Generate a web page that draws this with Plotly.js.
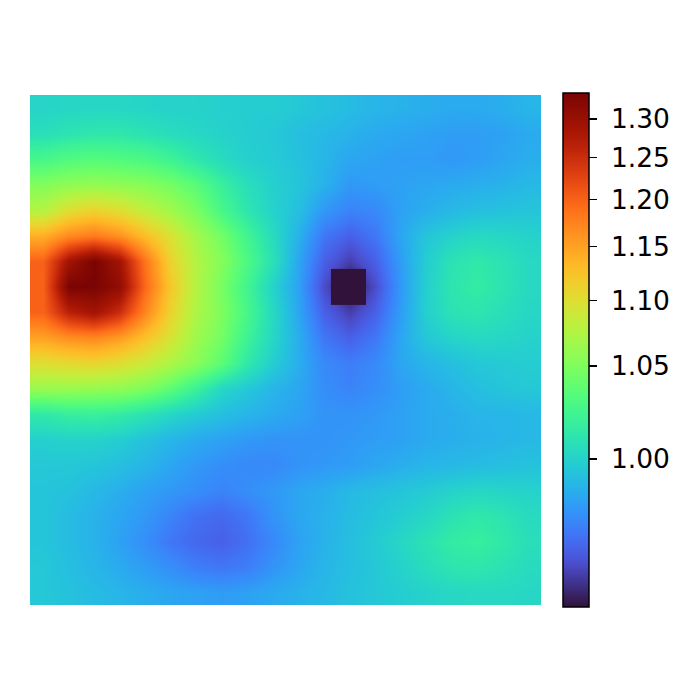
<!DOCTYPE html>
<html><head><meta charset="utf-8">
<script src="https://cdn.plot.ly/plotly-3.0.1.min.js"></script>
<style>html,body{margin:0;padding:0;background:#fff}#chart{width:700px;height:700px}</style>
</head><body><div id="chart"></div>
<script>
// grid values (20 x 20), rows top -> bottom, columns left -> right
const row00 = [1.001, 1.002, 1.002, 1.002, 1.001, 1.000, 1.000, 0.999, 0.998, 0.998, 0.996, 0.994, 0.992, 0.990, 0.989, 0.988, 0.987, 0.987, 0.988, 0.990];
const row01 = [1.006, 1.009, 1.011, 1.011, 1.008, 1.005, 1.002, 1.000, 0.998, 0.996, 0.993, 0.991, 0.989, 0.987, 0.986, 0.985, 0.984, 0.984, 0.985, 0.987];
const row02 = [1.025, 1.030, 1.032, 1.030, 1.027, 1.020, 1.011, 1.004, 0.999, 0.997, 0.994, 0.990, 0.986, 0.985, 0.984, 0.984, 0.983, 0.984, 0.986, 0.988];
const row03 = [1.052, 1.058, 1.060, 1.058, 1.054, 1.046, 1.033, 1.017, 1.006, 0.999, 0.995, 0.989, 0.983, 0.984, 0.985, 0.986, 0.987, 0.988, 0.989, 0.991];
const row04 = [1.075, 1.100, 1.110, 1.100, 1.082, 1.066, 1.048, 1.025, 1.010, 1.000, 0.993, 0.983, 0.979, 0.980, 0.985, 0.988, 0.991, 0.993, 0.994, 0.995];
const row05 = [1.140, 1.168, 1.180, 1.162, 1.128, 1.097, 1.067, 1.045, 1.022, 1.004, 0.989, 0.977, 0.974, 0.977, 0.986, 0.995, 1.000, 1.003, 1.002, 1.000];
const row06 = [1.200, 1.290, 1.340, 1.290, 1.185, 1.110, 1.075, 1.053, 1.028, 1.007, 0.986, 0.974, 0.971, 0.974, 0.984, 0.998, 1.008, 1.012, 1.008, 1.003];
const row07 = [1.200, 1.340, 1.450, 1.310, 1.195, 1.120, 1.075, 1.047, 1.022, 1.000, 0.985, 0.972, 0.969, 0.972, 0.983, 0.999, 1.010, 1.014, 1.009, 1.003];
const row08 = [1.200, 1.265, 1.290, 1.250, 1.172, 1.110, 1.072, 1.050, 1.025, 1.003, 0.986, 0.974, 0.971, 0.974, 0.984, 0.999, 1.008, 1.010, 1.006, 1.002];
const row09 = [1.150, 1.165, 1.170, 1.155, 1.125, 1.095, 1.065, 1.045, 1.020, 1.002, 0.988, 0.977, 0.974, 0.977, 0.986, 0.996, 1.001, 1.003, 1.002, 1.000];
const row10 = [1.100, 1.105, 1.108, 1.100, 1.088, 1.072, 1.055, 1.035, 1.012, 0.998, 0.988, 0.980, 0.978, 0.980, 0.986, 0.990, 0.993, 0.996, 0.997, 0.998];
const row11 = [1.062, 1.062, 1.060, 1.058, 1.050, 1.035, 1.018, 1.002, 0.996, 0.990, 0.986, 0.981, 0.979, 0.981, 0.984, 0.987, 0.990, 0.993, 0.995, 0.996];
const row12 = [1.012, 1.016, 1.017, 1.014, 1.008, 1.002, 0.997, 0.993, 0.990, 0.987, 0.985, 0.982, 0.982, 0.983, 0.985, 0.987, 0.988, 0.990, 0.990, 0.991];
const row13 = [0.999, 1.000, 1.000, 0.998, 0.994, 0.990, 0.987, 0.985, 0.983, 0.982, 0.982, 0.982, 0.983, 0.984, 0.985, 0.987, 0.988, 0.989, 0.990, 0.991];
const row14 = [0.996, 0.996, 0.995, 0.993, 0.990, 0.986, 0.983, 0.981, 0.980, 0.980, 0.982, 0.983, 0.984, 0.986, 0.988, 0.990, 0.991, 0.992, 0.993, 0.994];
const row15 = [0.995, 0.994, 0.991, 0.988, 0.985, 0.983, 0.981, 0.979, 0.981, 0.983, 0.986, 0.988, 0.991, 0.993, 0.995, 0.997, 1.000, 1.002, 1.001, 1.000];
const row16 = [0.995, 0.992, 0.989, 0.986, 0.983, 0.979, 0.976, 0.975, 0.977, 0.982, 0.986, 0.989, 0.992, 0.995, 0.998, 1.002, 1.008, 1.012, 1.009, 1.004];
const row17 = [0.995, 0.992, 0.989, 0.985, 0.981, 0.977, 0.975, 0.974, 0.976, 0.980, 0.985, 0.989, 0.993, 0.997, 1.002, 1.008, 1.014, 1.016, 1.012, 1.006];
const row18 = [0.996, 0.993, 0.990, 0.987, 0.984, 0.981, 0.978, 0.977, 0.978, 0.982, 0.986, 0.990, 0.993, 0.996, 1.000, 1.005, 1.010, 1.011, 1.008, 1.004];
const row19 = [0.996, 0.994, 0.992, 0.990, 0.988, 0.986, 0.985, 0.984, 0.985, 0.987, 0.989, 0.991, 0.994, 0.996, 0.998, 1.000, 1.002, 1.003, 1.003, 1.002];

// outlier cell below the colour range (bounds in grid units)
const underX = [11.28, 12.65];
const underY = [6.32, 7.74];
const underValue = [[0.940]];

// colorbar ticks
const tickValues = [1.00, 1.05, 1.10, 1.15, 1.20, 1.25, 1.30];
const tickLabels = ["1.00", "1.05", "1.10", "1.15", "1.20", "1.25", "1.30"];

// power norm (gamma 0.5)
const vmin = 0.9695, vmax = 1.3362, gamma = 0.5;
function norm(v) {
  const f = (v - vmin) / (vmax - vmin);
  return Math.pow(Math.min(1, Math.max(0, f)), gamma);
}

// turbo colormap
function turbo(t) {
  const r = 0.13572138 + t*(4.61539260 + t*(-42.66032258 + t*(132.13108234 + t*(-152.94239396 + t*59.28637943))));
  const g = 0.09140261 + t*(2.19418839 + t*(4.84296658 + t*(-14.18503333 + t*(4.27729857 + t*2.82956604))));
  const b = 0.10667330 + t*(12.64194608 + t*(-60.58204836 + t*(110.36276771 + t*(-89.90310912 + t*27.34824973))));
  return [r, g, b].map(c => Math.max(0, Math.min(1, c)));
}
const lo = [0.18995, 0.07176, 0.23217], hi = [0.47960, 0.01583, 0.01055];
const colorscale = [];
for (let i = 0; i <= 64; i++) {
  const t = i / 64;
  let c = turbo(t);
  if (t < 0.08) { const a = t / 0.08; const p = turbo(0.08); c = lo.map((v, k) => v + (p[k] - v) * a); }
  if (t > 0.92) { const a = (t - 0.92) / 0.08; const p = turbo(0.92); c = p.map((v, k) => v + (hi[k] - v) * a); }
  colorscale.push([t, 'rgb(' + c.map(v => Math.round(v * 255)).join(',') + ')']);
}

const rows = [row00,row01,row02,row03,row04,row05,row06,row07,row08,row09,
              row10,row11,row12,row13,row14,row15,row16,row17,row18,row19];
const zMain = rows.map(r => r.map(norm));

const main = {
  type: 'heatmap', z: zMain, zsmooth: 'best',
  colorscale: colorscale, zmin: 0, zmax: 1,
  hoverinfo: 'skip',
  colorbar: {
    x: 1.043, xanchor: 'left', xpad: 0, ypad: 0,
    y: 0.5, yanchor: 'middle', yref: 'paper',
    len: 514, lenmode: 'pixels', thickness: 26, thicknessmode: 'pixels',
    outlinewidth: 1.5, outlinecolor: '#000',
    tickmode: 'array', tickvals: tickValues.map(norm),
    ticktext: tickLabels.map(s => '\u00a0' + s),
    ticks: 'outside', ticklen: 8, tickwidth: 1.5, tickcolor: '#000',
    tickfont: {family: 'DejaVu Sans', size: 26.5, color: '#000'}
  }
};
const under = {
  type: 'heatmap', x: underX, y: underY, z: underValue.map(r => r.map(norm)), zsmooth: false,
  colorscale: colorscale, zmin: 0, zmax: 1, showscale: false, hoverinfo: 'skip'
};

Plotly.newPlot('chart', [main, under], {
  width: 700, height: 700,
  margin: {l: 30, r: 159, t: 95, b: 95, pad: 0},
  paper_bgcolor: '#fff', plot_bgcolor: '#fff',
  xaxis: {range: [-0.5, 19.5], visible: false, showgrid: false, zeroline: false},
  yaxis: {range: [19.5, -0.5], visible: false, showgrid: false, zeroline: false},
  showlegend: false
}, {staticPlot: true, displayModeBar: false});
</script></body></html>
